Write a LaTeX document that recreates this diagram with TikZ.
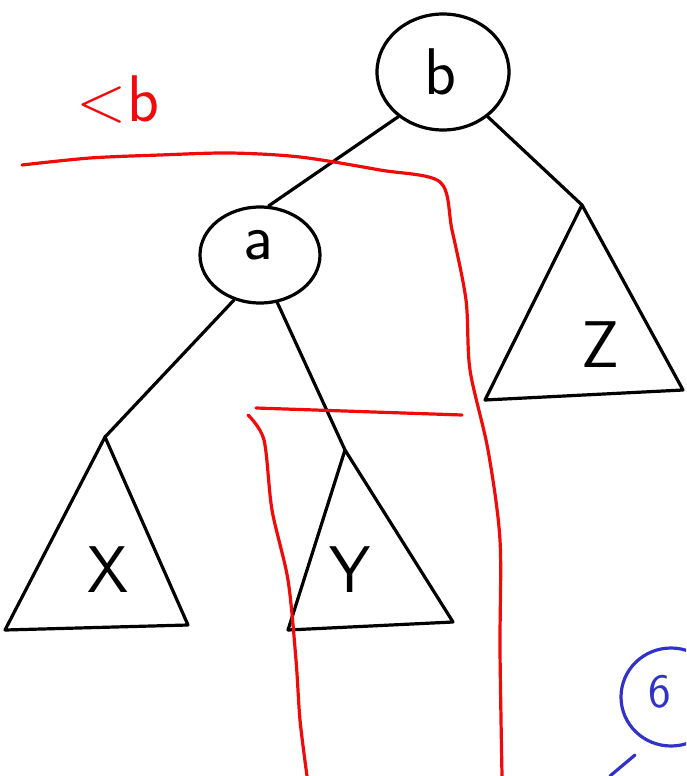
\documentclass[tikz,border=0pt]{standalone}
\usepackage{xcolor}
\usepackage{tikz}
\usetikzlibrary{shapes.geometric, calc}
\definecolor{pen}{RGB}{0,0,0}
\definecolor{redpen}{RGB}{240,10,10}
\definecolor{bluepen}{RGB}{50,50,200}
\tikzset{
  knot/.style ={ellipse, draw=pen, line width=3.2pt, inner sep=0pt},
  lbl/.style  ={font=\sffamily\fontsize{66}{66}\selectfont, text=pen},
  edg/.style  ={draw=pen, line width=3.2pt, line cap=round, line join=round},
  cut/.style  ={draw=redpen, line width=3.2pt, line cap=round, smooth},
  blu/.style  ={draw=bluepen, line width=3.2pt, line cap=round},
}
\begin{document}
\begin{tikzpicture}[x=1pt, y=-1pt]
\useasboundingbox (0,0) rectangle (686,776);
\clip (0,0) rectangle (686,776);
% keys
\node[knot, minimum width=132pt, minimum height=116pt] (nb) at (443,72) {};
\node[lbl] at (440,72) {b};
\node[knot, minimum width=120pt, minimum height=96pt] (na) at (260,255) {};
\node[lbl] at (258,245) {a};
% subtrees
\coordinate (xt) at (105,437); \coordinate (xl) at (5,630); \coordinate (xr) at (188,625);
\coordinate (yt) at (345,450); \coordinate (yl) at (288,630); \coordinate (yr) at (453,622);
\coordinate (zt) at (582,205); \coordinate (zl) at (485,400); \coordinate (zr) at (683,390);
\draw[edg] (xt) -- (xl) -- (xr) -- cycle;
\draw[edg] (yt) -- (yl) -- (yr) -- cycle;
\draw[edg] (zt) -- (zl) -- (zr) -- cycle;
\node[lbl] (tx) at (108,570) {X};
\node[lbl] (ty) at (350,570) {Y};
\node[lbl] (tz) at (600,345) {Z};
% edges
\draw[edg] (nb.225) -- (na.80);
\draw[edg] (nb.-45) -- (zt);
\draw[edg] (na.240) -- (xt);
\draw[edg] (na.-70) -- (yt);
% red split lines
\node[lbl, text=redpen] (lt) at (118,100) {<b};
\draw[cut] plot coordinates {(22,165) (90,158) (160,155) (230,153) (300,157) (380,170) (440,182)
  (452,230) (466,300) (470,370) (488,450) (500,540) (500,650) (502,776)};
\draw[cut] (256,408) -- (462,415);
\draw[cut] plot coordinates {(248,415) (264,440) (272,510) (288,580) (296,660) (300,720) (307,776)};
% blue
\node[ellipse, blu, minimum width=100pt, minimum height=98pt] (nc) at (671,697) {};
\node[lbl, text=bluepen, font=\sffamily\fontsize{48}{48}\selectfont] at (660,692) {6};
\coordinate (ce) at (635,755);
\coordinate (cf) at (610,776);
\draw[blu] (ce) -- (cf);
\end{tikzpicture}
\end{document}
